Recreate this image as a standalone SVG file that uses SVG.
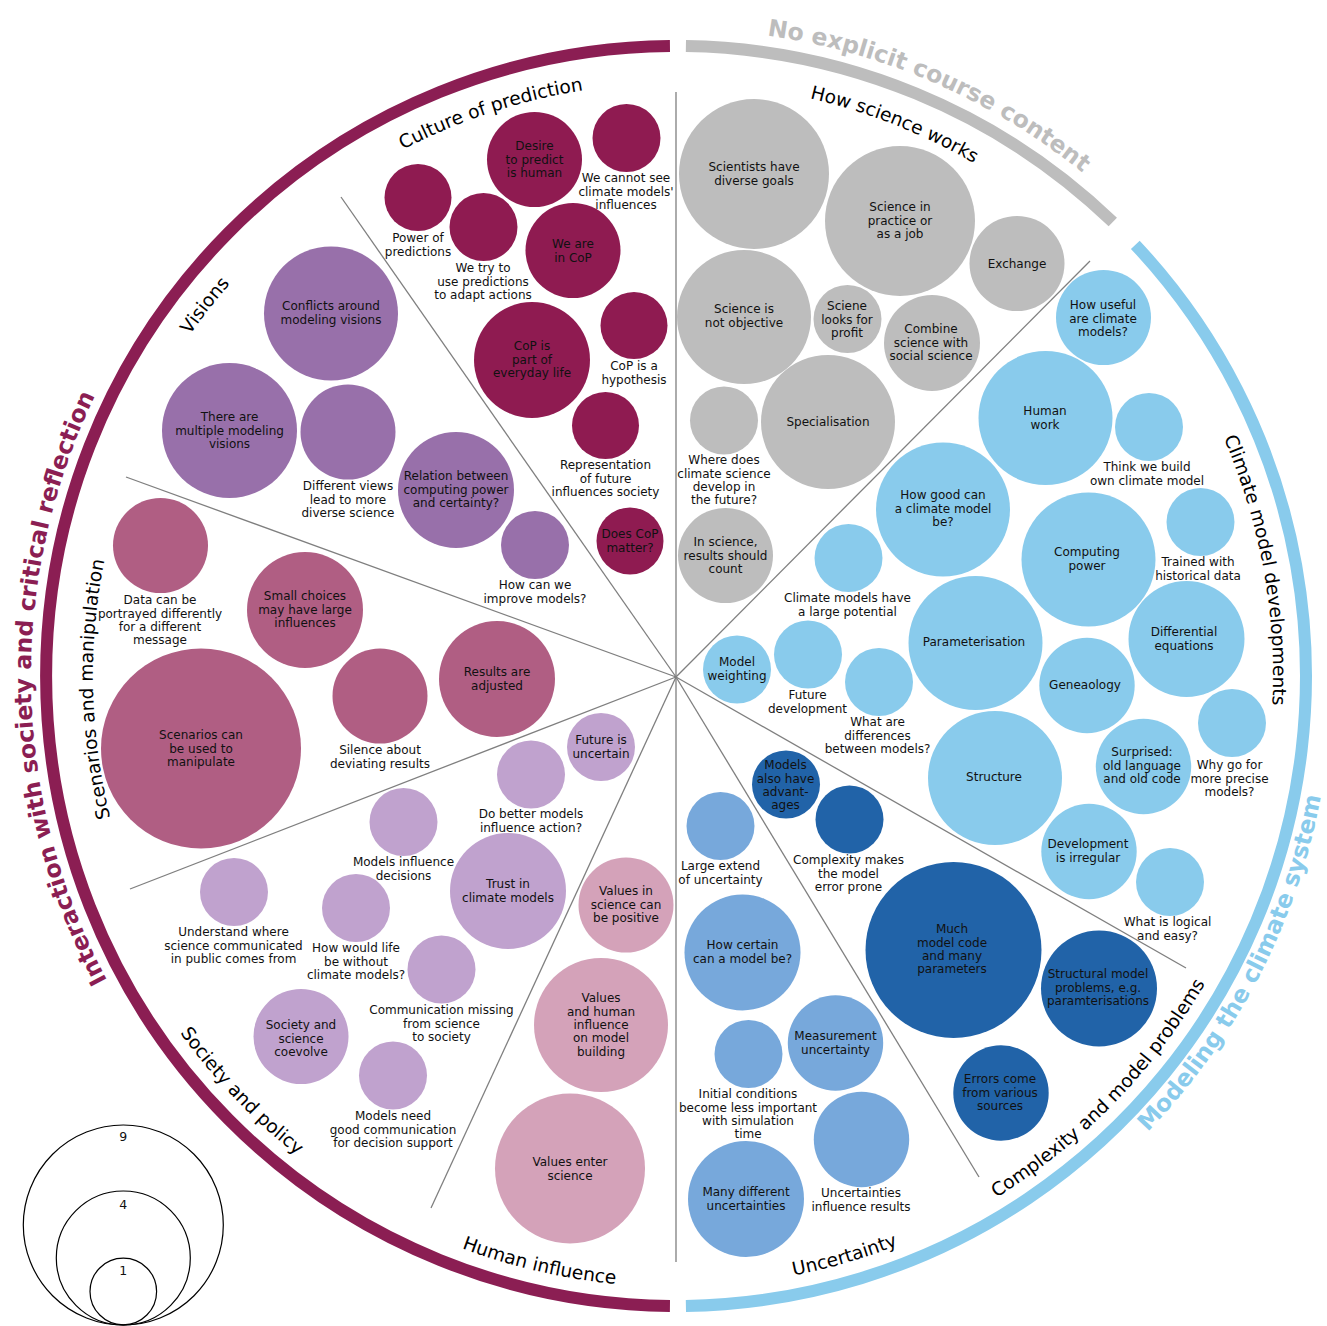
<svg xmlns="http://www.w3.org/2000/svg" width="1327" height="1326" viewBox="0 0 1327 1326">
<style>
text{font-family:"DejaVu Sans","Liberation Sans",sans-serif}
.n text{font-size:12px;text-anchor:middle;fill:#111}
.cp circle{fill:#8F1B51}
.vi circle{fill:#9870AA}
.sc circle{fill:#B05E83}
.sp circle{fill:#C0A2CE}
.hi circle{fill:#D4A2B9}
.sw circle{fill:#BDBDBD}
.cd circle{fill:#89CBEC}
.cx circle{fill:#2163A8}
.un circle{fill:#77A8DB}
.div line{stroke:#7f7f7f;stroke-width:1.3}
.lab{font-size:18.6px;fill:#000}
.ttl{font-size:23.5px;font-weight:bold}
.leg circle{fill:none;stroke:#000;stroke-width:1.2}
.leg text{font-size:12.5px;text-anchor:middle;fill:#111}
</style>
<defs>
<path id="pInter" d="M 365.2 1241.2 A 645 645 0 0 1 341.9 124.3"/>
<path id="pNo" d="M 291.2 155.9 A 647 647 0 0 1 1318.8 602.8"/>
<path id="pMod" d="M 706.9 1331.3 A 656 656 0 0 0 1228.0 321.6"/>
<path id="pCul" d="M 95.5 554.7 A 593 593 0 0 1 1071.2 233.9"/>
<path id="pHow" d="M 307.7 211.3 A 593 593 0 0 1 1262.7 589.4"/>
<path id="pVis" d="M 124.5 896.6 A 594 594 0 0 1 760.7 88.1"/>
<path id="pScn" d="M 396.0 1187.4 A 583 583 0 0 1 373.1 177.8"/>
<path id="pSoc" d="M 89.6 504.5 A 611 611 0 0 0 820.7 1269.6"/>
<path id="pHum" d="M 91.4 853.6 A 611 611 0 0 0 1122.1 1093.5"/>
<path id="pUnc" d="M 253.1 1117.0 A 611 611 0 0 0 1269.3 821.7"/>
<path id="pCom" d="M 524.8 1269.0 A 612 612 0 0 0 1265.2 510.4"/>
<path id="pCmd" d="M 876.8 113.7 A 597 597 0 0 1 1062.4 1131.1"/>
</defs>
<rect width="1327" height="1326" fill="#fff"/>
<g id="outer-arcs" fill="none" stroke-width="12">
<path d="M 669.95 1305.97 A 630 630 0 0 1 669.95 46.03" stroke="#8B1E53"/>
<path d="M 685.9 46.08 A 630 630 0 0 1 1112.8 222.0" stroke="#BDBDBD"/>
<path d="M 1135.3 244.8 A 630 630 0 0 1 685.9 1305.9" stroke="#89CBEC"/>
</g>
<g id="titles">
<text class="ttl" fill="#8B1E53"><textPath href="#pInter" startOffset="50%" text-anchor="middle">Interaction with society and critical reflection</textPath></text>
<text class="ttl" fill="#BDBDBD"><textPath href="#pNo" startOffset="50%" text-anchor="middle">No explicit course content</textPath></text>
<text class="ttl" fill="#89CBEC"><textPath href="#pMod" startOffset="50%" text-anchor="middle">Modeling the climate system</textPath></text>
</g>
<g id="section-labels">
<text class="lab"><textPath href="#pCul" startOffset="50%" text-anchor="middle">Culture of prediction</textPath></text>
<text class="lab"><textPath href="#pHow" startOffset="50%" text-anchor="middle">How science works</textPath></text>
<text class="lab"><textPath href="#pVis" startOffset="50%" text-anchor="middle">Visions</textPath></text>
<text class="lab"><textPath href="#pScn" startOffset="50%" text-anchor="middle">Scenarios and manipulation</textPath></text>
<text class="lab"><textPath href="#pSoc" startOffset="50%" text-anchor="middle">Society and policy</textPath></text>
<text class="lab"><textPath href="#pHum" startOffset="50%" text-anchor="middle">Human influence</textPath></text>
<text class="lab"><textPath href="#pUnc" startOffset="50%" text-anchor="middle">Uncertainty</textPath></text>
<text class="lab"><textPath href="#pCom" startOffset="50%" text-anchor="middle">Complexity and model problems</textPath></text>
<text class="lab"><textPath href="#pCmd" startOffset="50%" text-anchor="middle">Climate model developments</textPath></text>
</g>
<g id="connectors" class="div">
<line x1="676" y1="677" x2="676" y2="92"/>
<line x1="676" y1="677" x2="341" y2="197"/>
<line x1="676" y1="677" x2="126" y2="477"/>
<line x1="676" y1="677" x2="130" y2="889"/>
<line x1="676" y1="677" x2="431" y2="1208"/>
<line x1="676" y1="677" x2="676" y2="1262"/>
<line x1="676" y1="677" x2="979" y2="1177"/>
<line x1="676" y1="677" x2="1186" y2="968"/>
<line x1="676" y1="677" x2="1090" y2="261"/>
</g>
<!-- Culture of prediction -->
<g id="n-desire" class="n cp"><circle cx="534.5" cy="159.5" r="47.5"/><text x="534.5" y="150.3">Desire<tspan x="534.5" dy="13.3">to predict</tspan><tspan x="534.5" dy="13.3">is human</tspan></text></g>
<g id="n-cannotsee" class="n cp"><circle cx="626.5" cy="138" r="34"/><text x="626" y="182.3">We cannot see<tspan x="626" dy="13.3">climate models'</tspan><tspan x="626" dy="13.3">influences</tspan></text></g>
<g id="n-power" class="n cp"><circle cx="418" cy="197.5" r="33.5"/><text x="418" y="242.3">Power of<tspan x="418" dy="13.3">predictions</tspan></text></g>
<g id="n-wetry" class="n cp"><circle cx="483.5" cy="227" r="34"/><text x="483" y="272.3">We try to<tspan x="483" dy="13.3">use predictions</tspan><tspan x="483" dy="13.3">to adapt actions</tspan></text></g>
<g id="n-weare" class="n cp"><circle cx="573" cy="250.5" r="47.5"/><text x="573" y="248.3">We are<tspan x="573" dy="13.3">in CoP</tspan></text></g>
<g id="n-everyday" class="n cp"><circle cx="532" cy="360" r="58"/><text x="532" y="350.3">CoP is<tspan x="532" dy="13.3">part of</tspan><tspan x="532" dy="13.3">everyday life</tspan></text></g>
<g id="n-hypothesis" class="n cp"><circle cx="634" cy="325.5" r="33.5"/><text x="634" y="370.3">CoP is a<tspan x="634" dy="13.3">hypothesis</tspan></text></g>
<g id="n-representation" class="n cp"><circle cx="605.5" cy="425.5" r="33.5"/><text x="605.5" y="469.3">Representation<tspan x="605.5" dy="13.3">of future</tspan><tspan x="605.5" dy="13.3">influences society</tspan></text></g>
<g id="n-doescop" class="n cp"><circle cx="630" cy="541" r="33.5"/><text x="630" y="538.3">Does CoP<tspan x="630" dy="13.3">matter?</tspan></text></g>
<!-- Visions -->
<g id="n-conflicts" class="n vi"><circle cx="331" cy="313.5" r="67"/><text x="331" y="310.3">Conflicts around<tspan x="331" dy="13.3">modeling visions</tspan></text></g>
<g id="n-multiple" class="n vi"><circle cx="229.5" cy="430.5" r="67.5"/><text x="229.5" y="421.3">There are<tspan x="229.5" dy="13.3">multiple modeling</tspan><tspan x="229.5" dy="13.3">visions</tspan></text></g>
<g id="n-diffviews" class="n vi"><circle cx="348" cy="432" r="47.5"/><text x="348" y="490.3">Different views<tspan x="348" dy="13.3">lead to more</tspan><tspan x="348" dy="13.3">diverse science</tspan></text></g>
<g id="n-relation" class="n vi"><circle cx="456" cy="490" r="58"/><text x="456" y="480.3">Relation between<tspan x="456" dy="13.3">computing power</tspan><tspan x="456" dy="13.3">and certainty?</tspan></text></g>
<g id="n-improve" class="n vi"><circle cx="535" cy="545" r="34"/><text x="535" y="589.3">How can we<tspan x="535" dy="13.3">improve models?</tspan></text></g>
<!-- Scenarios and manipulation -->
<g id="n-data" class="n sc"><circle cx="160.5" cy="545.5" r="47.5"/><text x="160" y="604.3">Data can be<tspan x="160" dy="13.3">portrayed differently</tspan><tspan x="160" dy="13.3">for a different</tspan><tspan x="160" dy="13.3">message</tspan></text></g>
<g id="n-small" class="n sc"><circle cx="305" cy="610" r="58"/><text x="305" y="600.3">Small choices<tspan x="305" dy="13.3">may have large</tspan><tspan x="305" dy="13.3">influences</tspan></text></g>
<g id="n-silence" class="n sc"><circle cx="380" cy="696" r="47.5"/><text x="380" y="754.3">Silence about<tspan x="380" dy="13.3">deviating results</tspan></text></g>
<g id="n-adjusted" class="n sc"><circle cx="497" cy="679" r="58"/><text x="497" y="676.3">Results are<tspan x="497" dy="13.3">adjusted</tspan></text></g>
<g id="n-scenarios" class="n sc"><circle cx="201" cy="748.5" r="100"/><text x="201" y="739.3">Scenarios can<tspan x="201" dy="13.3">be used to</tspan><tspan x="201" dy="13.3">manipulate</tspan></text></g>
<!-- Society and policy -->
<g id="n-future" class="n sp"><circle cx="601" cy="747" r="34"/><text x="601" y="744.3">Future is<tspan x="601" dy="13.3">uncertain</tspan></text></g>
<g id="n-dobetter" class="n sp"><circle cx="531" cy="774.5" r="34"/><text x="531" y="818.3">Do better models<tspan x="531" dy="13.3">influence action?</tspan></text></g>
<g id="n-decisions" class="n sp"><circle cx="403.5" cy="822" r="34"/><text x="403.5" y="866.3">Models influence<tspan x="403.5" dy="13.3">decisions</tspan></text></g>
<g id="n-trust" class="n sp"><circle cx="508" cy="891" r="58"/><text x="508" y="888.3">Trust in<tspan x="508" dy="13.3">climate models</tspan></text></g>
<g id="n-understand" class="n sp"><circle cx="234" cy="892" r="34"/><text x="233.5" y="936.3">Understand where<tspan x="233.5" dy="13.3">science communicated</tspan><tspan x="233.5" dy="13.3">in public comes from</tspan></text></g>
<g id="n-life" class="n sp"><circle cx="356" cy="908" r="34"/><text x="356" y="952.3">How would life<tspan x="356" dy="13.3">be without</tspan><tspan x="356" dy="13.3">climate models?</tspan></text></g>
<g id="n-commmissing" class="n sp"><circle cx="441.5" cy="969.5" r="34"/><text x="441.5" y="1014.3">Communication missing<tspan x="441.5" dy="13.3">from science</tspan><tspan x="441.5" dy="13.3">to society</tspan></text></g>
<g id="n-coevolve" class="n sp"><circle cx="301" cy="1036.5" r="47.5"/><text x="301" y="1029.3">Society and<tspan x="301" dy="13.3">science</tspan><tspan x="301" dy="13.3">coevolve</tspan></text></g>
<g id="n-goodcomm" class="n sp"><circle cx="393" cy="1075.5" r="34"/><text x="393" y="1120.3">Models need<tspan x="393" dy="13.3">good communication</tspan><tspan x="393" dy="13.3">for decision support</tspan></text></g>
<!-- Human influence -->
<g id="n-positive" class="n hi"><circle cx="626" cy="905" r="47.5"/><text x="626" y="895.3">Values in<tspan x="626" dy="13.3">science can</tspan><tspan x="626" dy="13.3">be positive</tspan></text></g>
<g id="n-valueshuman" class="n hi"><circle cx="601" cy="1025" r="67"/><text x="601" y="1002.3">Values<tspan x="601" dy="13.3">and human</tspan><tspan x="601" dy="13.3">influence</tspan><tspan x="601" dy="13.3">on model</tspan><tspan x="601" dy="13.3">building</tspan></text></g>
<g id="n-valuesenter" class="n hi"><circle cx="570" cy="1168.5" r="75"/><text x="570" y="1166.3">Values enter<tspan x="570" dy="13.3">science</tspan></text></g>
<!-- How science works -->
<g id="n-goals" class="n sw"><circle cx="754" cy="174" r="75"/><text x="754" y="171.3">Scientists have<tspan x="754" dy="13.3">diverse goals</tspan></text></g>
<g id="n-practice" class="n sw"><circle cx="900" cy="221" r="75"/><text x="900" y="211.3">Science in<tspan x="900" dy="13.3">practice or</tspan><tspan x="900" dy="13.3">as a job</tspan></text></g>
<g id="n-exchange" class="n sw"><circle cx="1017" cy="263.5" r="47.5"/><text x="1017" y="267.8">Exchange</text></g>
<g id="n-objective" class="n sw"><circle cx="744" cy="317" r="67"/><text x="744" y="313.3">Science is<tspan x="744" dy="13.3">not objective</tspan></text></g>
<g id="n-profit" class="n sw"><circle cx="847.5" cy="319" r="34"/><text x="847" y="310.3">Sciene<tspan x="847" dy="13.3">looks for</tspan><tspan x="847" dy="13.3">profit</tspan></text></g>
<g id="n-combine" class="n sw"><circle cx="932" cy="343" r="48"/><text x="931" y="333.3">Combine<tspan x="931" dy="13.3">science with</tspan><tspan x="931" dy="13.3">social science</tspan></text></g>
<g id="n-special" class="n sw"><circle cx="828" cy="422" r="67"/><text x="828" y="426.3">Specialisation</text></g>
<g id="n-wheredoes" class="n sw"><circle cx="724" cy="420.5" r="34"/><text x="724" y="464.3">Where does<tspan x="724" dy="13.3">climate science</tspan><tspan x="724" dy="13.3">develop in</tspan><tspan x="724" dy="13.3">the future?</tspan></text></g>
<g id="n-count" class="n sw"><circle cx="725.5" cy="555.5" r="47.5"/><text x="725.5" y="546.3">In science,<tspan x="725.5" dy="13.3">results should</tspan><tspan x="725.5" dy="13.3">count</tspan></text></g>
<!-- Climate model developments -->
<g id="n-useful" class="n cd"><circle cx="1103.5" cy="317.5" r="47.5"/><text x="1103" y="309.3">How useful<tspan x="1103" dy="13.3">are climate</tspan><tspan x="1103" dy="13.3">models?</tspan></text></g>
<g id="n-humanwork" class="n cd"><circle cx="1045.5" cy="418" r="67"/><text x="1045" y="415.3">Human<tspan x="1045" dy="13.3">work</tspan></text></g>
<g id="n-thinkbuild" class="n cd"><circle cx="1149" cy="427" r="34"/><text x="1147" y="471.3">Think we build<tspan x="1147" dy="13.3">own climate model</tspan></text></g>
<g id="n-howgood" class="n cd"><circle cx="943" cy="509.5" r="67"/><text x="943" y="499.3">How good can<tspan x="943" dy="13.3">a climate model</tspan><tspan x="943" dy="13.3">be?</tspan></text></g>
<g id="n-potential" class="n cd"><circle cx="848.5" cy="558" r="34"/><text x="847.5" y="602.3">Climate models have<tspan x="847.5" dy="13.3">a large potential</tspan></text></g>
<g id="n-computing" class="n cd"><circle cx="1088.5" cy="559.5" r="67"/><text x="1087" y="556.3">Computing<tspan x="1087" dy="13.3">power</tspan></text></g>
<g id="n-trained" class="n cd"><circle cx="1200.5" cy="522" r="34"/><text x="1198" y="566.3">Trained with<tspan x="1198" dy="13.3">historical data</tspan></text></g>
<g id="n-param" class="n cd"><circle cx="975.5" cy="643" r="67"/><text x="974" y="646.3">Parameterisation</text></g>
<g id="n-diffeq" class="n cd"><circle cx="1186.5" cy="639" r="58"/><text x="1184" y="636.3">Differential<tspan x="1184" dy="13.3">equations</tspan></text></g>
<g id="n-weighting" class="n cd"><circle cx="737" cy="669.5" r="34"/><text x="737" y="666.3">Model<tspan x="737" dy="13.3">weighting</tspan></text></g>
<g id="n-futuredev" class="n cd"><circle cx="808" cy="654.5" r="34"/><text x="807.5" y="699.3">Future<tspan x="807.5" dy="13.3">development</tspan></text></g>
<g id="n-differences" class="n cd"><circle cx="879" cy="682" r="34"/><text x="877.5" y="726.3">What are<tspan x="877.5" dy="13.3">differences</tspan><tspan x="877.5" dy="13.3">between models?</tspan></text></g>
<g id="n-geneaology" class="n cd"><circle cx="1087" cy="685.5" r="47.7"/><text x="1085" y="689.3">Geneaology</text></g>
<g id="n-structure" class="n cd"><circle cx="995" cy="778" r="67"/><text x="994" y="781.3">Structure</text></g>
<g id="n-surprised" class="n cd"><circle cx="1143.5" cy="766.5" r="47.7"/><text x="1142" y="756.3">Surprised:<tspan x="1142" dy="13.3">old language</tspan><tspan x="1142" dy="13.3">and old code</tspan></text></g>
<g id="n-precise" class="n cd"><circle cx="1232" cy="723" r="34"/><text x="1229.5" y="769.3">Why go for<tspan x="1229.5" dy="13.3">more precise</tspan><tspan x="1229.5" dy="13.3">models?</tspan></text></g>
<g id="n-irregular" class="n cd"><circle cx="1089" cy="851.5" r="47.7"/><text x="1088" y="848.3">Development<tspan x="1088" dy="13.3">is irregular</tspan></text></g>
<g id="n-logical" class="n cd"><circle cx="1170" cy="882" r="34"/><text x="1167.5" y="926.3">What is logical<tspan x="1167.5" dy="13.3">and easy?</tspan></text></g>
<!-- Complexity and model problems -->
<g id="n-advantages" class="n cx"><circle cx="786" cy="784.5" r="34"/><text x="785.5" y="769.3">Models<tspan x="785.5" dy="13.3">also have</tspan><tspan x="785.5" dy="13.3">advant-</tspan><tspan x="785.5" dy="13.3">ages</tspan></text></g>
<g id="n-errorprone" class="n cx"><circle cx="849.5" cy="819.5" r="34"/><text x="848.5" y="864.3">Complexity makes<tspan x="848.5" dy="13.3">the model</tspan><tspan x="848.5" dy="13.3">error prone</tspan></text></g>
<g id="n-muchcode" class="n cx"><circle cx="953.5" cy="950" r="88"/><text x="952" y="933.3">Much<tspan x="952" dy="13.3">model code</tspan><tspan x="952" dy="13.3">and many</tspan><tspan x="952" dy="13.3">parameters</tspan></text></g>
<g id="n-structural" class="n cx"><circle cx="1099" cy="988.5" r="58"/><text x="1098" y="978.3">Structural model<tspan x="1098" dy="13.3">problems, e.g.</tspan><tspan x="1098" dy="13.3">paramterisations</tspan></text></g>
<g id="n-errors" class="n cx"><circle cx="1001" cy="1093" r="47.7"/><text x="1000" y="1083.3">Errors come<tspan x="1000" dy="13.3">from various</tspan><tspan x="1000" dy="13.3">sources</tspan></text></g>
<!-- Uncertainty -->
<g id="n-largeextend" class="n un"><circle cx="720.5" cy="826" r="34"/><text x="720.5" y="870.3">Large extend<tspan x="720.5" dy="13.3">of uncertainty</tspan></text></g>
<g id="n-howcertain" class="n un"><circle cx="742.5" cy="952.5" r="58"/><text x="742.5" y="949.3">How certain<tspan x="742.5" dy="13.3">can a model be?</tspan></text></g>
<g id="n-initial" class="n un"><circle cx="748.5" cy="1054" r="34"/><text x="748" y="1098.3">Initial conditions<tspan x="748" dy="13.3">become less important</tspan><tspan x="748" dy="13.3">with simulation</tspan><tspan x="748" dy="13.3">time</tspan></text></g>
<g id="n-measurement" class="n un"><circle cx="835.5" cy="1043" r="47.7"/><text x="835.5" y="1040.3">Measurement<tspan x="835.5" dy="13.3">uncertainty</tspan></text></g>
<g id="n-influenceresults" class="n un"><circle cx="861.5" cy="1139.5" r="47.7"/><text x="861" y="1197.3">Uncertainties<tspan x="861" dy="13.3">influence results</tspan></text></g>
<g id="n-manydiff" class="n un"><circle cx="746" cy="1199" r="58"/><text x="746" y="1196.3">Many different<tspan x="746" dy="13.3">uncertainties</tspan></text></g>
<!-- Legend -->
<g id="legend" class="leg">
<circle cx="123.3" cy="1225" r="100"/>
<circle cx="123.3" cy="1258" r="67"/>
<circle cx="123.3" cy="1291.5" r="33.3"/>
<text x="123.3" y="1141.3">9</text>
<text x="123.3" y="1208.6">4</text>
<text x="123.3" y="1275.3">1</text>
</g>
</svg>
